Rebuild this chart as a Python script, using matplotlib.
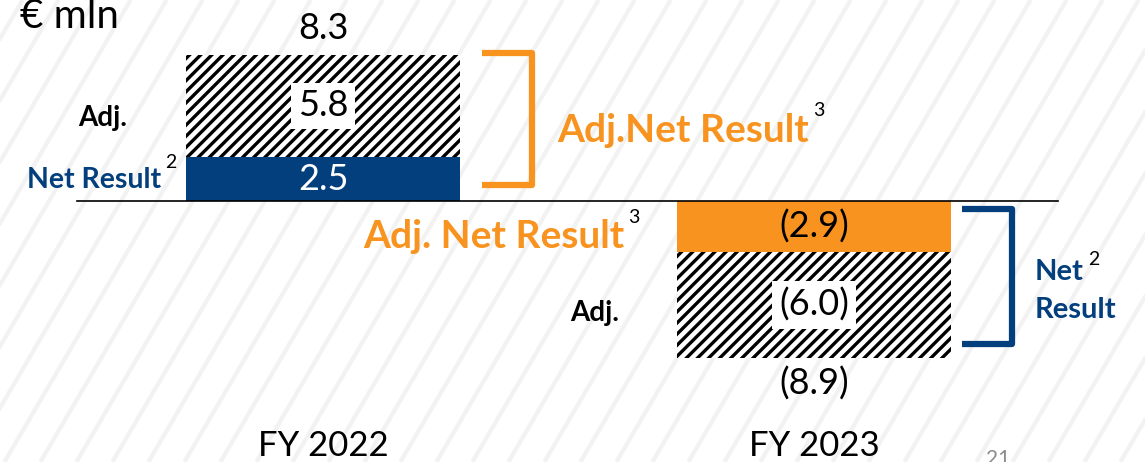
import numpy as np
import matplotlib.pyplot as plt

plt.rcParams['font.family'] = ['Lato', 'DejaVu Sans']
plt.rcParams['hatch.linewidth'] = 2.4

# data (EUR mln)
years = ['FY 2022', 'FY 2023']
solid_vals = [2.5, -2.9]        # FY22 net result, FY23 adj. net result
adj_vals = [5.8, -6.0]          # adjustments
totals = [8.3, -8.9]            # FY22 adj. net result, FY23 net result

blue = '#023F7C'
orange = '#F7931E'

def fmt(v):
    return '%.1f' % v if v >= 0 else '(%.1f)' % -v

W, H = 1145, 462
fig = plt.figure(figsize=(W/100, H/100), dpi=100)

# faint diagonal background stripes
bg = fig.add_axes([0, 0, 1, 1], zorder=0)
bg.set_xlim(0, W)
bg.set_ylim(H, 0)
bg.axis('off')
slope = 1.71
for x0 in np.arange(40.4 - 36*10, W + 36, 36.0):
    bg.plot([x0, x0 + H/slope], [H, 0], color='#f2f2f2', lw=3, solid_capstyle='butt')

ax = fig.add_axes([0, 0, 1, 1], zorder=1)
ax.patch.set_alpha(0)
pxu = 491.0   # px per x unit
pyu = 17.6    # px per y unit
ax.set_xlim(-323/pxu, 1 + (W - 814)/pxu)
ax.set_ylim(-(H - 201)/pyu, 201/pyu)
ax.axis('off')

x = np.arange(len(years))
bw = 274/pxu
ax.bar(x, solid_vals, width=bw, color=[blue, orange], lw=0)
ax.bar(x, adj_vals, width=bw, bottom=solid_vals, color='white', edgecolor='black',
       hatch='///', lw=0)
ax.plot([(77-323)/pxu, (1058-323)/pxu], [0, 0], color='black', lw=1.2, zorder=3)

lab = dict(ha='center', va='center', fontsize=26)
for i in range(len(years)):
    ax.text(x[i], solid_vals[i]/2, fmt(solid_vals[i]),
            color='white' if i == 0 else 'black', **lab)
    ax.text(x[i], solid_vals[i] + adj_vals[i]/2, fmt(adj_vals[i]),
            bbox=dict(facecolor='white', edgecolor='none', pad=5), **lab)
    ax.text(x[i], totals[i] + np.sign(totals[i])*1.5, fmt(totals[i]), **lab)
    ax.text(x[i], -13.9, years[i], ha='center', va='center', fontsize=25)

# side labels
def px(xp):
    return (xp - 323)/pxu

def py(yp):
    return (201 - yp)/pyu

def sup(t, s, dy=8):
    ax.annotate(s, xy=(1, 0.75), xycoords=t, xytext=(3, dy), textcoords='offset points',
                fontsize=14, color='black', ha='left', va='center')

ax.text(px(20), py(28), '€ mln', fontsize=29, ha='left', va='baseline')
ax.text(px(78), py(118), 'Adj.', fontsize=20, fontweight='bold', ha='left', va='center')
t = ax.text(px(27), py(180), 'Net Result', fontsize=20.5, fontweight='bold', color=blue,
            ha='left', va='center')
sup(t, '2')
t = ax.text(px(557), py(130), 'Adj.Net Result', fontsize=28, fontweight='bold', color=orange,
            ha='left', va='center')
sup(t, '3')
t = ax.text(px(363), py(237), 'Adj. Net Result', fontsize=28, fontweight='bold', color=orange,
            ha='left', va='center')
sup(t, '3')
ax.text(px(570), py(313), 'Adj.', fontsize=20, fontweight='bold', ha='left', va='center')
t = ax.text(px(1035), py(272), 'Net', fontsize=21, fontweight='bold', color=blue,
            ha='left', va='center')
sup(t, '2', dy=4)
ax.text(px(1035), py(310), 'Result', fontsize=21, fontweight='bold', color=blue,
        ha='left', va='center')
ax.text(px(998), py(449), '21', fontsize=15, color='#8c8c8c', ha='center', va='top')

# brackets
ax.plot([px(482), px(532), px(532), px(482)], [totals[0] + 0.1, totals[0] + 0.1, 0.9, 0.9],
        color=orange, lw=4.5, solid_joinstyle='round', solid_capstyle='butt')
ax.plot([px(962), px(1012), px(1012), px(962)], [-0.45, -0.45, totals[1] + 0.75, totals[1] + 0.75],
        color=blue, lw=4.5, solid_joinstyle='round', solid_capstyle='butt')

fig.savefig('out.png', dpi=100)
